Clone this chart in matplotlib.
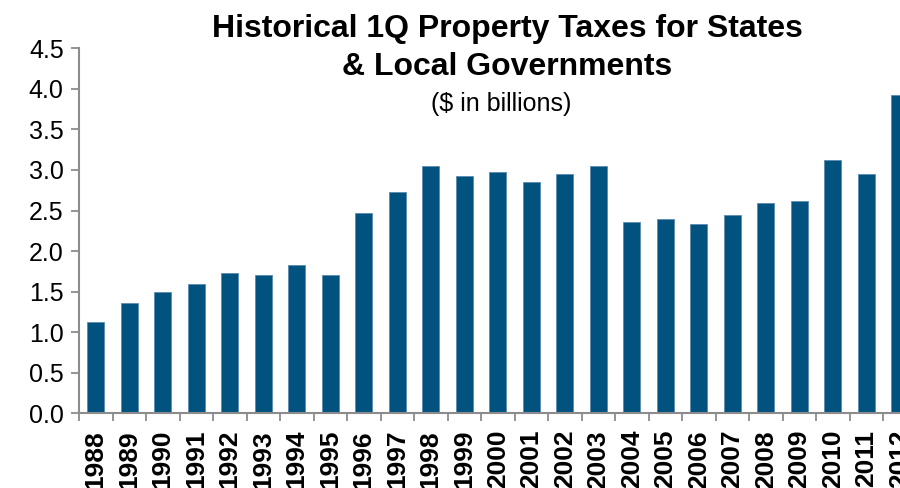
import numpy as np
import matplotlib.pyplot as plt
from matplotlib.ticker import FixedLocator

plt.rcParams['font.family'] = ['Liberation Sans', 'DejaVu Sans']

years = [str(y) for y in range(1988, 2013)]
taxes = [1.13, 1.36, 1.50, 1.60, 1.73, 1.71, 1.83, 1.71, 2.47, 2.73,
         3.05, 2.93, 2.97, 2.85, 2.95, 3.05, 2.36, 2.40, 2.33, 2.44,
         2.59, 2.62, 3.12, 2.95, 3.92]
yticks = [0.0, 0.5, 1.0, 1.5, 2.0, 2.5, 3.0, 3.5, 4.0, 4.5]

bar_color = '#02527f'
axis_gray = '#8c8c8c'

fig = plt.figure(figsize=(9.0, 4.88), dpi=100)
# axes runs past the right edge, the last bar is clipped like in the source
ax = fig.add_axes([79/900, (488-413.3)/488, 837.5/900, 365/488])

x = np.arange(len(years))
ax.bar(x, taxes, width=0.5, color=bar_color, edgecolor='#5b8bb0', linewidth=0.6)

ax.set_xlim(-0.5, len(years) - 0.5)
ax.set_ylim(0, 4.5)
ax.set_yticks(yticks)
ax.set_yticklabels(['%.1f' % v for v in yticks], fontsize=18)

ax.set_xticks(x)
ax.set_xticklabels(years, rotation=90, fontsize=19, fontweight='bold')
ax.xaxis.set_minor_locator(FixedLocator(np.arange(-0.5, len(years), 1)))
ax.tick_params(axis='x', which='major', length=0, pad=12)
ax.tick_params(axis='x', which='minor', length=6, width=1.3, color=axis_gray)
ax.tick_params(axis='y', length=6, width=1.3, color=axis_gray, pad=5)

for s in ['top', 'right']:
    ax.spines[s].set_visible(False)
for s in ['left', 'bottom']:
    ax.spines[s].set_color(axis_gray)
    ax.spines[s].set_linewidth(1.5)

fig.text(507/900, 1 - 29/488, 'Historical 1Q Property Taxes for States',
         ha='center', va='center', fontsize=23, fontweight='bold')
fig.text(507/900, 1 - 67/488, '& Local Governments',
         ha='center', va='center', fontsize=23, fontweight='bold')
fig.text(501/900, 1 - 104/488, '($ in billions)',
         ha='center', va='center', fontsize=18)

fig.savefig('out.png', dpi=100)
